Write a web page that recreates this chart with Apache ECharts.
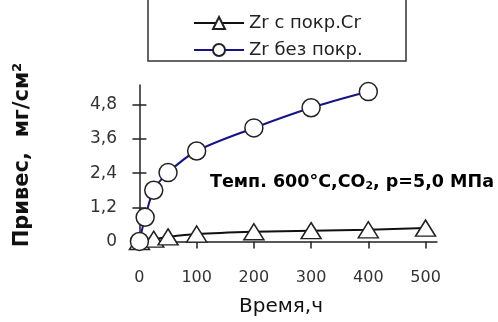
<!DOCTYPE html>
<html>
<head>
<meta charset="utf-8">
<script src="https://cdn.jsdelivr.net/npm/echarts@6/dist/echarts.min.js"></script>
<style>
  html, body { margin: 0; padding: 0; background: #fff; }
  #chart { width: 498px; height: 322px; }
</style>
</head>
<body>
<div id="chart"></div>
<script>
// данные
const timeCr = [0, 25, 50, 100, 200, 300, 400, 500];
const gainCr = [0, 0.08, 0.16, 0.26, 0.34, 0.38, 0.41, 0.47];
const timeBare = [0, 10, 25, 50, 100, 200, 300, 400];
const gainBare = [0, 0.85, 1.8, 2.42, 3.18, 3.99, 4.7, 5.27];
const xTicks = [0, 100, 200, 300, 400, 500];
const yTicks = [0, 1.2, 2.4, 3.6, 4.8];
const seriesNames = ['Zr с покр.Cr', 'Zr без покр.'];

const font = 'DejaVu Sans';
const comma = v => String(v).replace('.', ',');

const chart = echarts.init(document.getElementById('chart'));

const option = {
  animation: false,
  backgroundColor: '#fff',
  grid: { left: 132, right: 61, top: 85, bottom: 72 },
  legend: {
    orient: 'vertical',
    left: 188,
    top: 8,
    itemWidth: 50,
    itemHeight: 15,
    itemGap: 7,
    textStyle: { fontFamily: font, fontSize: 18, color: '#222', lineHeight: 20 },
    data: seriesNames
  },
  xAxis: {
    type: 'value',
    min: -13,
    max: 520,
    axisLine: { onZero: true, lineStyle: { color: '#222', width: 1.5 } },
    axisTick: { customValues: xTicks, inside: false, length: 7, lineStyle: { color: '#222', width: 1.5 } },
    axisLabel: { customValues: xTicks, margin: 20, fontFamily: font, fontSize: 16, color: '#333' },
    splitLine: { show: false }
  },
  yAxis: [
    {
      type: 'value',
      min: -0.3,
      max: 5.5,
      axisLine: { onZero: true, lineStyle: { color: '#222', width: 1.5 } },
      axisTick: { customValues: yTicks, inside: false, length: 7, lineStyle: { color: '#222', width: 1.5 } },
      axisLabel: { customValues: yTicks, margin: 15, fontFamily: font, fontSize: 17, color: '#333', formatter: comma },
      splitLine: { show: false }
    },
    {
      // вторые засечки внутрь, чтобы они пересекали ось
      type: 'value',
      position: 'left',
      offset: -7.4,
      min: -0.3,
      max: 5.5,
      axisLine: { show: false, onZero: false },
      axisTick: { show: true, customValues: yTicks, inside: true, length: 7, lineStyle: { color: '#222', width: 1.5 } },
      axisLabel: { show: false },
      splitLine: { show: false }
    }
  ],
  graphic: [
    {
      type: 'rect',
      z: 1,
      shape: { x: 148, y: -5, width: 258, height: 66 },
      style: { fill: '#fff', stroke: '#333', lineWidth: 1.5 }
    },
    {
      type: 'text',
      x: 23, y: 155,
      rotation: Math.PI / 2,
      style: {
        text: 'Привес,  мг/см²',
        font: 'bold 21px "DejaVu Sans"',
        fill: '#111',
        align: 'center',
        verticalAlign: 'middle'
      }
    },
    {
      type: 'text',
      x: 281, y: 307,
      style: {
        text: 'Время,ч',
        font: '20px "DejaVu Sans"',
        fill: '#111',
        align: 'center',
        verticalAlign: 'middle'
      }
    },
    {
      type: 'text',
      x: 210, y: 182,
      style: {
        text: '{a|Темп. 600°C,CO}{s|2}{a|, p=5,0 МПа}',
        verticalAlign: 'middle',
        rich: {
          a: { fontFamily: font, fontWeight: 'bold', fontSize: 17.5, color: '#111' },
          s: { fontFamily: font, fontWeight: 'bold', fontSize: 11, color: '#111', padding: [8, 0, 0, 0] }
        }
      }
    }
  ],
  series: [
    {
      name: seriesNames[0],
      type: 'line',
      smooth: 0.3,
      data: timeCr.map((t, i) => [t, gainCr[i]]),
      symbol: 'triangle',
      symbolSize: [20, 16],
      lineStyle: { color: '#111', width: 2 },
      itemStyle: { color: '#fff', borderColor: '#222', borderWidth: 1.5 },
      z: 3
    },
    {
      name: seriesNames[1],
      type: 'line',
      smooth: 0.3,
      data: timeBare.map((t, i) => [t, gainBare[i]]),
      symbol: 'circle',
      symbolSize: 18,
      lineStyle: { color: '#141488', width: 2 },
      itemStyle: { color: '#fff', borderColor: '#222', borderWidth: 1.5 },
      z: 4
    }
  ]
};

chart.setOption(option);
</script>
</body>
</html>
